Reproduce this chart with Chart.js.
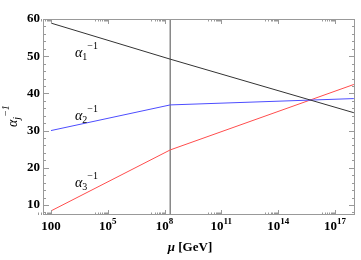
<!DOCTYPE html>
<html>
<head>
<meta charset="utf-8">
<script src="https://cdn.jsdelivr.net/npm/chart.js@4"></script>
<style>
  body { margin: 0; background: #fff; }
  #wrap { width: 361px; height: 260px; }
</style>
</head>
<body>
<div id="wrap"><canvas id="couplingChart" width="361" height="260"></canvas></div>
<script>
// running couplings
const muPoints = [1e2, 2e8, 1e18];
const alpha1Inv = [58.9, 49.2, 34.8];
const alpha2Inv = [30.0, 36.9, 38.6];
const alpha3Inv = [8.4, 24.8, 42.4];
const thresholdMu = 2e8;

const xTickValues = [1e2, 1e5, 1e8, 1e11, 1e14, 1e17];
const xTickLabels = [['100', ''], ['10', '5'], ['10', '8'], ['10', '11'], ['10', '14'], ['10', '17']];
const yTickValues = [10, 20, 30, 40, 50, 60];
const yMinorValues = [8, 12, 14, 16, 18, 22, 24, 26, 28, 32, 34, 36, 38, 42, 44, 46, 48, 52, 54, 56, 58];

const X_MIN = 38, X_MAX = 1.15e18, Y_MIN = 7.3, Y_MAX = 60;
const serif = "'Liberation Serif', 'DejaVu Serif', serif";

function toPoints(xs, ys) {
    return xs.map((x, i) => ({ x: x, y: ys[i] }));
}

// 枠・目盛・ラベルを描くプラグイン
const framePlugin = {
    id: 'frame',
    afterDatasetsDraw(chart) {
        const ctx = chart.ctx;
        const a = chart.chartArea;
        const xs = chart.scales.x, ys = chart.scales.y;
        ctx.save();
        ctx.strokeStyle = '#999';
        ctx.lineWidth = 1;
        ctx.strokeRect(a.left + 0.5, a.top + 0.5, a.right - a.left - 1, a.bottom - a.top - 1);

        ctx.beginPath();
        // x ticks, top and bottom
        xTickValues.forEach(v => {
            const px = Math.round(xs.getPixelForValue(v)) + 0.5;
            ctx.moveTo(px, a.bottom); ctx.lineTo(px, a.bottom - 5);
            ctx.moveTo(px, a.top); ctx.lineTo(px, a.top + 5);
            for (let k = 2; k <= 9; k++) {
                const mp = Math.round(xs.getPixelForValue(v / 10 * k)) + 0.5;
                ctx.moveTo(mp, a.bottom); ctx.lineTo(mp, a.bottom - 2.5);
                ctx.moveTo(mp, a.top); ctx.lineTo(mp, a.top + 2.5);
            }
        });
        yTickValues.forEach(v => {
            const py = Math.round(ys.getPixelForValue(v)) + 0.5;
            ctx.moveTo(a.left, py); ctx.lineTo(a.left + 6, py);
            ctx.moveTo(a.right, py); ctx.lineTo(a.right - 6, py);
        });
        yMinorValues.forEach(v => {
            const py = Math.round(ys.getPixelForValue(v)) + 0.5;
            ctx.moveTo(a.left, py); ctx.lineTo(a.left + 3, py);
            ctx.moveTo(a.right, py); ctx.lineTo(a.right - 3, py);
        });
        ctx.stroke();

        // tick labels
        ctx.fillStyle = '#000';
        ctx.textBaseline = 'middle';
        ctx.font = 'bold 13px ' + serif;
        ctx.textAlign = 'right';
        yTickValues.forEach(v => {
            ctx.fillText(String(v), a.left - 3, ys.getPixelForValue(v));
        });
        ctx.textAlign = 'left';
        xTickValues.forEach((v, i) => {
            const [base, exp] = xTickLabels[i];
            ctx.font = 'bold 13px ' + serif;
            const wb = ctx.measureText(base).width;
            ctx.font = 'bold 9px ' + serif;
            const we = exp ? ctx.measureText(exp).width : 0;
            const x0 = xs.getPixelForValue(v) - (wb + we) / 2;
            ctx.font = 'bold 13px ' + serif;
            ctx.fillText(base, x0, a.bottom + 12);
            if (exp) {
                ctx.font = 'bold 9px ' + serif;
                ctx.fillText(exp, x0 + wb, a.bottom + 7);
            }
        });

        // axis titles
        ctx.font = 'italic bold 13px ' + serif;
        ctx.textAlign = 'left';
        const mu = 'μ';
        const wMu = ctx.measureText(mu).width;
        ctx.font = 'bold 13px ' + serif;
        const rest = ' [GeV]';
        const wRest = ctx.measureText(rest).width;
        const tx = 190 - (wMu + wRest) / 2;
        ctx.font = 'italic bold 13px ' + serif;
        ctx.fillText(mu, tx, 248);
        ctx.font = 'bold 13px ' + serif;
        ctx.fillText(rest, tx + wMu, 248);

        ctx.save();
        ctx.translate(13, 115);
        ctx.rotate(-Math.PI / 2);
        drawAlpha(ctx, 'j', -12, 0, 14);
        ctx.restore();

        // series labels
        drawAlpha(ctx, '1', 75, 53, 14);
        drawAlpha(ctx, '2', 75, 116, 14);
        drawAlpha(ctx, '3', 75, 183, 14);
        ctx.restore();
    }
};

function drawAlpha(ctx, sub, x, y, size) {
    ctx.textAlign = 'left';
    ctx.textBaseline = 'alphabetic';
    ctx.fillStyle = '#000';
    ctx.font = 'italic ' + size + 'px ' + serif;
    ctx.fillText('α', x, y + 4);
    const w = ctx.measureText('α').width;
    ctx.font = (sub === 'j' ? 'italic ' : '') + Math.round(size * 0.72) + 'px ' + serif;
    ctx.fillText(sub, x + w, y + 7);
    const ws = ctx.measureText(sub).width;
    ctx.fillText('−1', x + w + ws, y - 4);
}

const ctx = document.getElementById('couplingChart').getContext('2d');
new Chart(ctx, {
    type: 'scatter',
    data: {
        datasets: [
            { data: toPoints(muPoints, alpha1Inv), borderColor: '#333', borderWidth: 1 },
            { data: toPoints(muPoints, alpha2Inv), borderColor: '#4d4dff', borderWidth: 1 },
            { data: toPoints(muPoints, alpha3Inv), borderColor: '#ff4d4d', borderWidth: 1 },
            { data: toPoints([thresholdMu, thresholdMu], [Y_MIN, Y_MAX]), borderColor: '#888', borderWidth: 1.5 }
        ]
    },
    options: {
        responsive: false,
        animation: false,
        devicePixelRatio: 1,
        showLine: true,
        elements: { point: { radius: 0 }, line: { tension: 0 } },
        layout: { padding: { left: 0, top: 19, right: 6, bottom: 0 } },
        plugins: { legend: { display: false }, tooltip: { enabled: false } },
        scales: {
            x: {
                type: 'logarithmic', min: X_MIN, max: X_MAX,
                ticks: { display: false }, grid: { display: false }, border: { display: false },
                afterFit(s) { s.height = 45; }
            },
            y: {
                min: Y_MIN, max: Y_MAX,
                ticks: { display: false }, grid: { display: false }, border: { display: false },
                afterFit(s) { s.width = 43; }
            }
        }
    },
    plugins: [framePlugin]
});
</script>
</body>
</html>
